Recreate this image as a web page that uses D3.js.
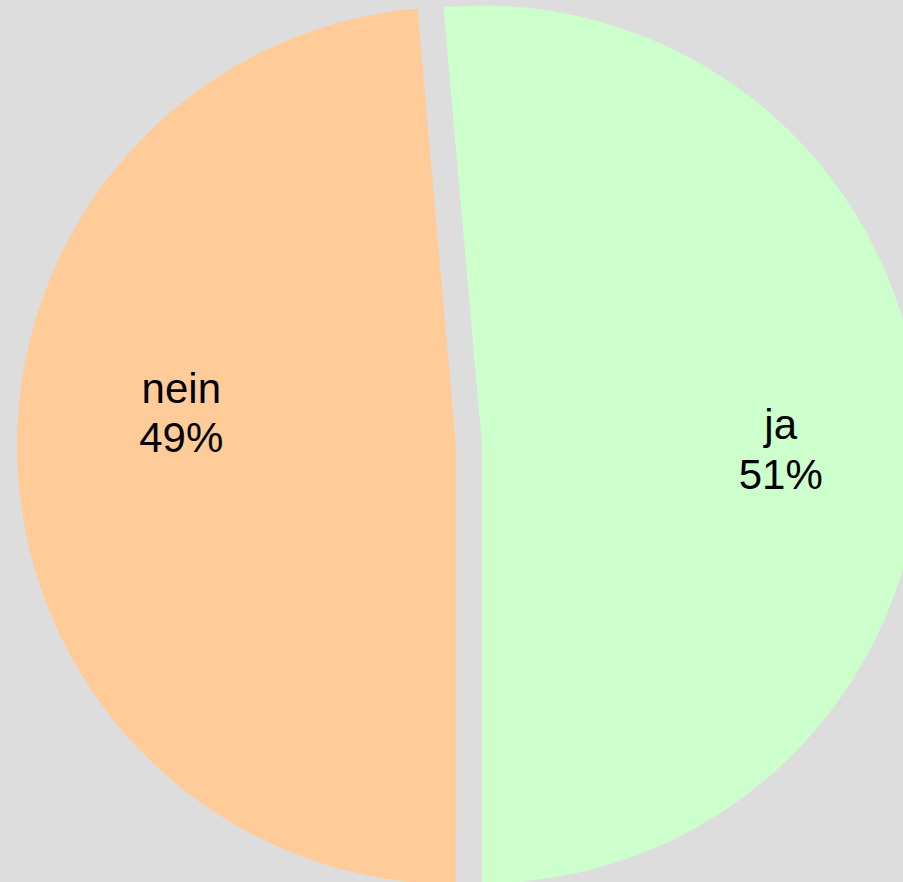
<!DOCTYPE html>
<html>
<head>
<meta charset="utf-8">
<script src="https://cdn.jsdelivr.net/npm/d3@7"></script>
<style>
  html, body { margin: 0; padding: 0; background: #dddddd; }
  svg { display: block; }
</style>
</head>
<body>
<figure id="pie" style="margin:0"></figure>
<script>
// slices, in drawing order (pie starts at the bottom and runs clockwise)
const categories = ["nein", "ja"];
const shares = [48.6, 51.4];
const colors = ["#ffcc99", "#ccffcc"];

const width = 903;
const height = 882;
const cx = 469;
const cy = 445;
const radius = 439;
const explode = 13;   // each slice is pulled out along its bisector
const labelRadius = 287;
// small hand tweaks so the labels sit where the original put them
const labelNudge = { nein: [12, -47], ja: [12, 16] };

const data = categories.map((c, i) => ({ name: c, value: shares[i], color: colors[i] }));
const total = d3.sum(shares);

const svg = d3.select("figure#pie")
  .append("svg")
  .attr("width", width)
  .attr("height", height);

svg.append("rect")
  .attr("width", width)
  .attr("height", height)
  .attr("fill", "#dddddd");

const g = svg.append("g")
  .attr("transform", "translate(" + cx + "," + cy + ")");

const pie = d3.pie().sort(null).value(d => d.value)
  .startAngle(Math.PI)
  .endAngle(3 * Math.PI);

const arc = d3.arc().innerRadius(0).outerRadius(radius);
const labelArc = d3.arc().innerRadius(labelRadius).outerRadius(labelRadius);

// offset of each slice along the middle of its angle
function shift(d) {
  const mid = (d.startAngle + d.endAngle) / 2;
  return [Math.sin(mid) * explode, -Math.cos(mid) * explode];
}

const slices = g.selectAll("g.slice")
  .data(pie(data))
  .enter()
  .append("g")
  .attr("class", "slice")
  .attr("transform", d => "translate(" + shift(d) + ")");

slices.append("path")
  .attr("d", arc)
  .attr("fill", d => d.data.color);

const fmt = d3.format(".0%");

const labels = slices.append("text")
  .attr("transform", d => {
    const c = labelArc.centroid(d);
    const n = labelNudge[d.data.name];
    return "translate(" + (c[0] + n[0]) + "," + (c[1] + n[1]) + ")";
  })
  .attr("text-anchor", "middle")
  .style("font-family", "'Liberation Sans', Arial, sans-serif")
  .style("font-size", "42px")
  .attr("fill", "#000");

labels.append("tspan")
  .attr("x", 0)
  .attr("dy", "-0.2em")
  .text(d => d.data.name);

labels.append("tspan")
  .attr("x", 0)
  .attr("dy", "1.17em")
  .text(d => fmt(d.data.value / total));
</script>
</body>
</html>
